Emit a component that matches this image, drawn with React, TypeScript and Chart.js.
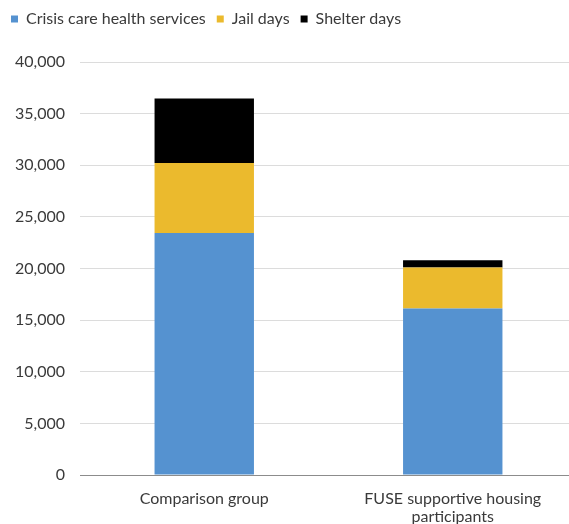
import React, { useEffect, useRef } from "react";
import { Chart, registerables } from "chart.js";

Chart.register(...registerables);

const categories: (string | string[])[] = [
  "Comparison group",
  ["FUSE supportive housing", "participants"],
];
const crisisCare = [23450, 16130];
const jailDays = [6780, 3970];
const shelterDays = [6230, 710];

const BLUE = "#5592d0";
const GOLD = "#ebba2d";
const BLACK = "#000000";
const TEXT = "#3a3a3a";

// Extra space under the legend row so the plot starts lower down
const legendSpacer = {
  id: "legendSpacer",
  beforeInit(chart: any) {
    const legend = chart.legend;
    if (!legend) return;
    const origFit = legend.fit;
    legend.fit = function fit() {
      origFit.bind(legend)();
      this.height += 25;
    };
  },
};

export default function App() {
  const canvasRef = useRef<HTMLCanvasElement | null>(null);

  useEffect(() => {
    if (!canvasRef.current) return;
    const chart = new Chart(canvasRef.current, {
      type: "bar",
      data: {
        labels: categories,
        datasets: [
          { label: "Crisis care health services", data: crisisCare, backgroundColor: BLUE },
          { label: "Jail days", data: jailDays, backgroundColor: GOLD },
          { label: "Shelter days", data: shelterDays, backgroundColor: BLACK },
        ],
      },
      options: {
        animation: false,
        responsive: false,
        maintainAspectRatio: false,
        layout: { padding: { left: 0, right: 13, top: 0, bottom: 0 } },
        datasets: {
          bar: { barPercentage: 0.4, categoryPercentage: 1, borderWidth: 0 },
        },
        plugins: {
          tooltip: { enabled: false },
          legend: {
            position: "top",
            align: "start",
            labels: {
              boxWidth: 7,
              boxHeight: 7,
              padding: 11,
              color: TEXT,
              font: { family: "Lato", size: 16 },
            },
          },
        },
        scales: {
          x: {
            stacked: true,
            grid: { display: false, drawTicks: false },
            border: { display: true, color: "#8c8c8c", width: 1 },
            ticks: {
              color: TEXT,
              padding: 15,
              maxRotation: 0,
              autoSkip: false,
              font: { family: "Lato", size: 16, lineHeight: 1.1 },
            },
            afterFit(scale: any) {
              scale.height = 49;
            },
          },
          y: {
            stacked: true,
            min: 0,
            max: 40000,
            grid: { color: "#dcdcdc", lineWidth: 1, drawTicks: false },
            border: { display: false },
            ticks: {
              stepSize: 5000,
              color: TEXT,
              padding: 15,
              font: { family: "Lato", size: 16 },
              callback: (v: any) => Number(v).toLocaleString("en-US"),
            },
            afterFit(scale: any) {
              scale.width = 80;
            },
          },
        },
      },
      plugins: [legendSpacer],
    });
    return () => chart.destroy();
  }, []);

  return (
    <div
      style={{
        position: "fixed",
        left: 0,
        top: 0,
        width: 569,
        height: 524,
        overflow: "hidden",
        background: "#ffffff",
      }}
    >
      <canvas ref={canvasRef} width={590} height={524} style={{ display: "block" }} />
    </div>
  );
}
